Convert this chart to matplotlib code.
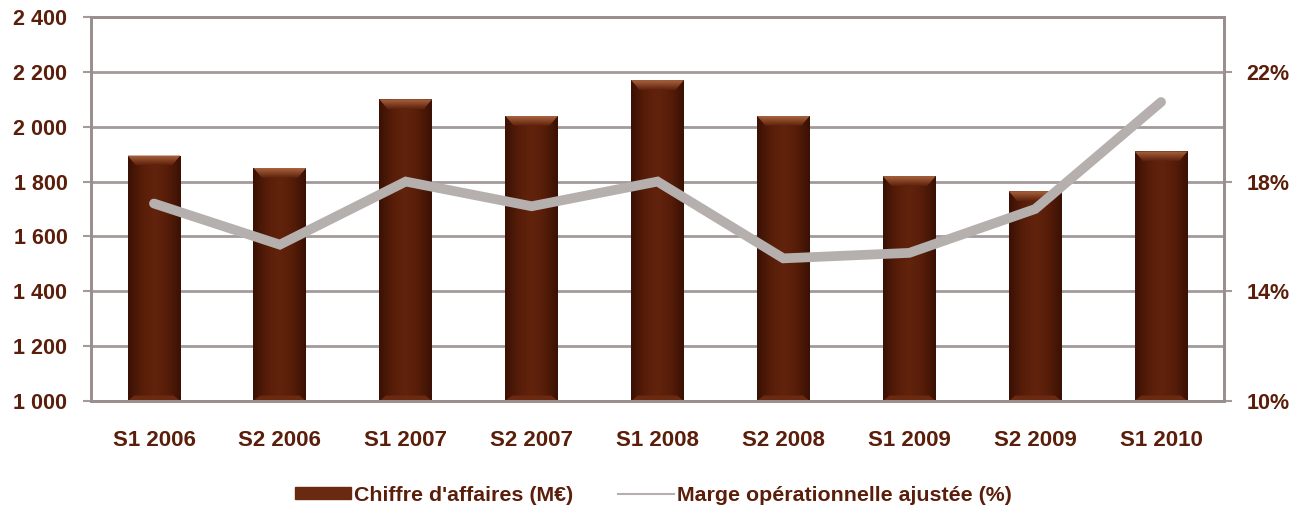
import matplotlib
matplotlib.use('Agg')
import matplotlib.pyplot as plt
import numpy as np
from matplotlib.patches import Rectangle, Polygon
from matplotlib.lines import Line2D
from matplotlib.colors import LinearSegmentedColormap

plt.rcParams.update({
    "font.family": ["Liberation Sans", "DejaVu Sans"],
    "font.weight": "bold",
    "font.size": 15,
})

periods = ['S1 2006', 'S2 2006', 'S1 2007', 'S2 2007', 'S1 2008',
           'S2 2008', 'S1 2009', 'S2 2009', 'S1 2010']
ca = [1895, 1850, 2100, 2040, 2170, 2040, 1820, 1765, 1910]
marge = [17.2, 15.7, 18.0, 17.1, 18.0, 15.2, 15.4, 17.0, 20.9]
left_ticks = [1000, 1200, 1400, 1600, 1800, 2000, 2200, 2400]
right_ticks = [10, 14, 18, 22]

txt = '#5a1e0a'
grid_c = '#a39a99'
bar_c = '#5c1f0a'
line_c = '#b5afad'

fig = plt.figure(figsize=(13.02, 5.09), dpi=100)
ax = fig.add_axes([0.0699, 0.2122, 0.8702, 0.7544])
x = np.arange(len(periods))

bars = ax.bar(x, [v - 1000 for v in ca], bottom=1000, width=0.42,
              color=bar_c, zorder=2)

# shading on each bar: darker sides, lighter bevelled top
side_cmap = LinearSegmentedColormap.from_list(
    'choc', ['#3a1104', '#571d09', '#62230c', '#571d09', '#3a1104'])
cap_cmap = LinearSegmentedColormap.from_list('cap', ['#5e210b', '#a8633f'])
grad = np.linspace(0, 1, 64).reshape(1, -1)
vgrad = np.linspace(1, 0, 32).reshape(-1, 1)
for b in bars:
    x0, w = b.get_x(), b.get_width()
    y0, h = b.get_y(), b.get_height()
    im = ax.imshow(grad, cmap=side_cmap, aspect='auto', zorder=2.1,
                   extent=[x0, x0 + w, y0, y0 + h])
    im.set_clip_path(b)
    cap = 36
    inset = w * 0.16
    top = y0 + h
    trap = Polygon([[x0, top], [x0 + w, top], [x0 + w - inset, top - cap],
                    [x0 + inset, top - cap]], closed=True, fc='none', lw=0)
    ax.add_patch(trap)
    ci = ax.imshow(vgrad, cmap=cap_cmap, aspect='auto', zorder=2.2,
                   extent=[x0, x0 + w, top - cap, top])
    ci.set_clip_path(trap)
    # faint bevel at the foot
    ax.add_patch(Polygon([[x0, y0], [x0 + w, y0], [x0 + w - inset * 0.8, y0 + 20],
                          [x0 + inset * 0.8, y0 + 20]], closed=True,
                         fc='#6a2a12', lw=0, zorder=2.2))

ax.set_xlim(-0.5, len(periods) - 0.5)
ax.set_ylim(1000, 2400)
ax.set_yticks(left_ticks)
ax.set_yticklabels([f'{t:,}'.replace(',', ' ') for t in left_ticks])
ax.set_xticks(x)
ax.set_xticklabels(periods)
ax.yaxis.grid(True, color=grid_c, lw=2, zorder=0)
ax.set_axisbelow(True)
ax.tick_params(axis='x', length=0, pad=21, labelsize=16)
ax.tick_params(axis='y', length=6, width=1.5, color=grid_c, pad=11,
               labelsize=15.5)
for s in ax.spines.values():
    s.set_color('#9a8f8e')
    s.set_linewidth(2)

ax2 = ax.twinx()
ax2.plot(x, marge, color=line_c, lw=7, solid_capstyle='round',
         solid_joinstyle='miter', zorder=5)
ax2.set_ylim(10, 24)
ax2.set_yticks(right_ticks)
ax2.set_yticklabels([f'{t}%' for t in right_ticks])
ax2.tick_params(axis='y', length=6, width=1.5, color=grid_c, pad=10,
                labelsize=15.5)
for s in ax2.spines.values():
    s.set_color('#9a8f8e')
    s.set_linewidth(2)
for lab in ax.get_yticklabels() + ax.get_xticklabels() + ax2.get_yticklabels():
    lab.set_color(txt)

handles = [Rectangle((0, 0), 1, 1, color='#6a2a12'),
           Line2D([0], [0], color=line_c, lw=1.5)]
leg = fig.legend(handles, ["Chiffre d'affaires (M€)", 'Marge opérationnelle ajustée (%)'],
                 loc='center', bbox_to_anchor=(0.502, 0.027), ncol=2, frameon=False,
                 fontsize=15.4, handlelength=2.6, handleheight=0.5,
                 columnspacing=2.1, handletextpad=0.15)
for t in leg.get_texts():
    t.set_color(txt)

fig.savefig('out.png', dpi=100)
